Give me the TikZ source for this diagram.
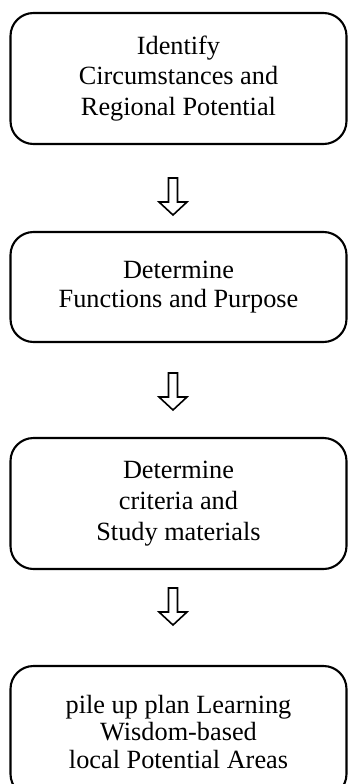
\documentclass[tikz,border=0pt]{standalone}
\usepackage{fontspec}
\setmainfont{Liberation Serif}
\begin{document}
\begin{tikzpicture}[x=1pt,y=-1pt,
  stagebox/.style={draw, line width=2.1pt, rounded corners=23pt, minimum width=336pt,
    align=center, inner sep=0pt, font=\fontsize{26.3}{30.5}\selectfont},
  hollowarrow/.pic={\draw[line width=1.6pt, line join=miter, fill=white]
    (-4.5,0) -- (4.5,0) -- (4.5,24) -- (14,24) -- (0,37) -- (-14,24) -- (-4.5,24) -- cycle;}
]
\clip (0,0) rectangle (348,784);
\node[stagebox, minimum height=131pt] (b1) at (178.5,78.5)
  {Identify\\Circumstances and\\Regional Potential};
\node[stagebox, minimum height=110pt, font=\fontsize{26.3}{29}\selectfont] (b2) at (178.5,287)
  {Determine\\Functions and Purpose};
\node[stagebox, minimum height=131pt, font=\fontsize{26.3}{31}\selectfont] (b3) at (178.5,503.5)
  {Determine\\criteria and\\Study materials};
\node[stagebox, minimum height=131pt, font=\fontsize{26.3}{27.5}\selectfont] (b4) at (178.5,731.5)
  {pile up plan Learning\\Wisdom-based\\local Potential Areas};
\coordinate (a1) at (173,178);
\coordinate (a2) at (173,373);
\coordinate (a3) at (173,588);
\pic at (a1) {hollowarrow};
\pic at (a2) {hollowarrow};
\pic at (a3) {hollowarrow};
\end{tikzpicture}
\end{document}
